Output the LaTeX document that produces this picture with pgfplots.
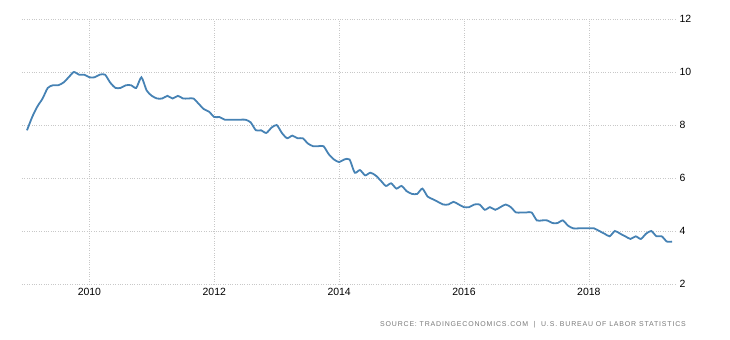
\documentclass[border=0pt]{standalone}
\usepackage{pgfplots}
\pgfplotsset{compat=1.18}
\usepackage{pgfplotstable}
\usepackage{fontspec}
\setmainfont{Liberation Sans}
\definecolor{linec}{RGB}{70,130,180}
\definecolor{gridc}{RGB}{200,200,200}
\definecolor{srcc}{RGB}{120,120,120}
\pgfplotstableread{
x y
2009.000 7.8
2009.083 8.3
2009.167 8.7
2009.250 9.0
2009.333 9.4
2009.417 9.5
2009.500 9.5
2009.583 9.6
2009.667 9.8
2009.750 10.0
2009.833 9.9
2009.917 9.9
2010.000 9.8
2010.083 9.8
2010.167 9.9
2010.250 9.9
2010.333 9.6
2010.417 9.4
2010.500 9.4
2010.583 9.5
2010.667 9.5
2010.750 9.4
2010.833 9.8
2010.917 9.3
2011.000 9.1
2011.083 9.0
2011.167 9.0
2011.250 9.1
2011.333 9.0
2011.417 9.1
2011.500 9.0
2011.583 9.0
2011.667 9.0
2011.750 8.8
2011.833 8.6
2011.917 8.5
2012.000 8.3
2012.083 8.3
2012.167 8.2
2012.250 8.2
2012.333 8.2
2012.417 8.2
2012.500 8.2
2012.583 8.1
2012.667 7.8
2012.750 7.8
2012.833 7.7
2012.917 7.9
2013.000 8.0
2013.083 7.7
2013.167 7.5
2013.250 7.6
2013.333 7.5
2013.417 7.5
2013.500 7.3
2013.583 7.2
2013.667 7.2
2013.750 7.2
2013.833 6.9
2013.917 6.7
2014.000 6.6
2014.083 6.7
2014.167 6.7
2014.250 6.2
2014.333 6.3
2014.417 6.1
2014.500 6.2
2014.583 6.1
2014.667 5.9
2014.750 5.7
2014.833 5.8
2014.917 5.6
2015.000 5.7
2015.083 5.5
2015.167 5.4
2015.250 5.4
2015.333 5.6
2015.417 5.3
2015.500 5.2
2015.583 5.1
2015.667 5.0
2015.750 5.0
2015.833 5.1
2015.917 5.0
2016.000 4.9
2016.083 4.9
2016.167 5.0
2016.250 5.0
2016.333 4.8
2016.417 4.9
2016.500 4.8
2016.583 4.9
2016.667 5.0
2016.750 4.9
2016.833 4.7
2016.917 4.7
2017.000 4.7
2017.083 4.7
2017.167 4.4
2017.250 4.4
2017.333 4.4
2017.417 4.3
2017.500 4.3
2017.583 4.4
2017.667 4.2
2017.750 4.1
2017.833 4.1
2017.917 4.1
2018.000 4.1
2018.083 4.1
2018.167 4.0
2018.250 3.9
2018.333 3.8
2018.417 4.0
2018.500 3.9
2018.583 3.8
2018.667 3.7
2018.750 3.8
2018.833 3.7
2018.917 3.9
2019.000 4.0
2019.083 3.8
2019.167 3.8
2019.250 3.6
2019.333 3.6
}\unemp
\begin{document}
\begin{tikzpicture}
\path[use as bounding box] (-22bp,-56bp) rectangle (708bp,284bp);
\begin{axis}[
  at={(0,0)}, anchor=south west,
  scale only axis,
  width=653bp, height=265bp,
  xmin=2008.92, xmax=2019.38,
  ymin=2, ymax=12,
  xtick={2010,2012,2014,2016,2018},
  ytick={2,4,6,8,10,12},
  axis line style={draw=none},
  major tick length=0pt,
  grid=major,
  major grid style={gridc, dotted, line width=0.6pt},
  yticklabel pos=right,
  yticklabel style={anchor=west, xshift=1bp, font=\fontsize{10.5}{12}\selectfont, text=black},
  xticklabel style={yshift=-1bp, font=\fontsize{10.5}{12}\selectfont, text=black},
  /pgf/number format/1000 sep={},
  /pgf/number format/assume math mode=true,
  clip=false,
]
\addplot[linec, line width=1.8pt, smooth, tension=0.4] table[x=x, y=y] {\unemp};
\node[anchor=east, text=srcc, font=\fontsize{7}{8}\selectfont\addfontfeatures{LetterSpace=12}, inner sep=0pt]
  at (rel axis cs:1.0169,-0.155) {SOURCE: TRADINGECONOMICS.COM \ | \ U.S. BUREAU OF LABOR STATISTICS};
\end{axis}
\end{tikzpicture}
\end{document}
